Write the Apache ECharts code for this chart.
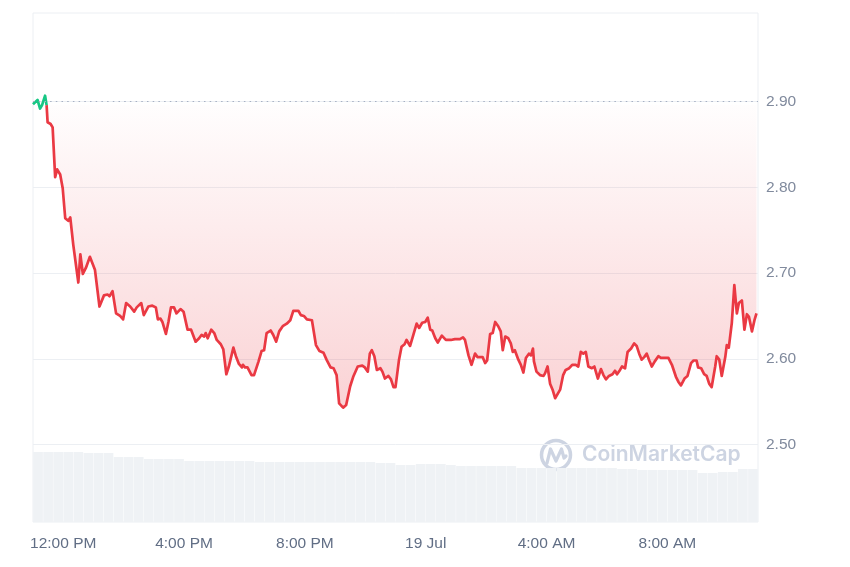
<!DOCTYPE html>
<html>
<head>
<meta charset="utf-8">
<script src="https://cdn.jsdelivr.net/npm/echarts@6/dist/echarts.min.js"></script>
<style>
html,body{margin:0;padding:0;background:#fff;}
#chart{width:850px;height:567px;}
</style>
</head>
<body>
<div id="chart"></div>
<script>
// ---- Data ----
const startTime = Date.UTC(2024, 6, 18, 11, 0); // 18 Jul 11:00
const spanMinutes = 1440;
const openPrice = 2.8964;

// minutes after start
const priceMinutes = [0,9,14,18,24,27,29,35,39,44,48,54,59,64,70,74,80,90,94,99,105,113,123,132,141,148,152,158,165,173,179,185,193,201,206,209,215,220,229,237,244,248,253,257,264,269,274,280,285,293,299,307,314,323,330,335,340,343,347,354,360,365,373,378,384,389,398,403,409,415,417,421,426,434,439,448,454,459,464,472,477,483,489,496,504,511,517,527,532,538,544,554,562,569,577,583,591,597,603,608,616,622,630,636,645,654,659,665,669,673,678,683,690,694,699,706,711,716,720,727,732,738,742,749,755,762,767,773,779,784,789,793,799,804,812,820,830,838,848,854,858,865,871,878,883,888,893,898,902,908,913,918,924,929,933,938,944,949,953,957,964,969,974,979,985,989,993,995,1000,1007,1014,1017,1022,1027,1032,1037,1043,1047,1053,1058,1065,1071,1078,1083,1088,1093,1098,1103,1110,1115,1122,1128,1133,1138,1144,1151,1156,1160,1166,1170,1176,1181,1188,1194,1199,1204,1209,1214,1219,1224,1229,1235,1242,1247,1255,1262,1269,1277,1282,1287,1294,1300,1307,1312,1318,1321,1327,1333,1338,1343,1348,1355,1358,1363,1368,1375,1378,1382,1388,1393,1398,1402,1408,1413,1418,1422,1428,1433,1437];
const priceValues = [2.897,2.902,2.892,2.896,2.907,2.896,2.876,2.874,2.870,2.812,2.821,2.815,2.799,2.764,2.761,2.765,2.733,2.689,2.722,2.699,2.706,2.719,2.704,2.661,2.674,2.675,2.673,2.679,2.653,2.650,2.646,2.665,2.661,2.655,2.660,2.658,2.665,2.651,2.661,2.662,2.660,2.646,2.647,2.643,2.629,2.643,2.660,2.660,2.653,2.658,2.655,2.634,2.634,2.620,2.624,2.628,2.626,2.630,2.624,2.634,2.630,2.622,2.617,2.611,2.582,2.591,2.613,2.603,2.594,2.590,2.593,2.590,2.590,2.581,2.581,2.597,2.609,2.610,2.630,2.633,2.628,2.620,2.632,2.638,2.641,2.645,2.656,2.656,2.651,2.650,2.646,2.645,2.616,2.609,2.607,2.599,2.590,2.589,2.581,2.548,2.543,2.546,2.568,2.579,2.591,2.592,2.590,2.585,2.606,2.610,2.603,2.587,2.589,2.585,2.577,2.580,2.576,2.567,2.567,2.599,2.614,2.617,2.622,2.615,2.627,2.641,2.636,2.642,2.643,2.648,2.634,2.633,2.624,2.619,2.627,2.622,2.622,2.623,2.623,2.625,2.622,2.604,2.593,2.606,2.602,2.602,2.602,2.595,2.598,2.629,2.630,2.643,2.638,2.632,2.610,2.626,2.624,2.618,2.608,2.610,2.599,2.593,2.584,2.601,2.606,2.604,2.612,2.597,2.585,2.581,2.580,2.583,2.591,2.571,2.564,2.554,2.560,2.564,2.581,2.587,2.589,2.593,2.593,2.591,2.608,2.606,2.608,2.591,2.589,2.591,2.577,2.588,2.581,2.576,2.580,2.582,2.586,2.582,2.587,2.591,2.589,2.608,2.612,2.618,2.615,2.606,2.599,2.602,2.606,2.598,2.591,2.597,2.603,2.601,2.601,2.601,2.593,2.579,2.573,2.569,2.577,2.580,2.595,2.598,2.598,2.590,2.589,2.582,2.580,2.571,2.567,2.591,2.603,2.599,2.580,2.602,2.616,2.613,2.642,2.686,2.653,2.665,2.668,2.634,2.652,2.649,2.632,2.645,2.653];
// the opening points (index 0..greenEndIndex) trade around the open price and are drawn green
const greenEndIndex = 5;

// 24h volume (USD millions), one bar per 20-minute slot
const volumeValues = [140,140,140,140,140,138,138,138,130,130,130,126,126,126,126,122,122,122,122,122,122,122,120,120,120,120,120,120,120,120,120,120,120,120,118,118,114,114,116,116,116,114,112,112,112,112,112,112,108,108,108,108,108,108,108,108,108,108,106,106,104,104,104,104,104,104,98,98,100,100,106,106];
const volumeSlotMinutes = 20;

const priceTicks = [2.50, 2.60, 2.70, 2.80, 2.90];

// ---- Build ----
const endTime = startTime + spanMinutes * 60000;
const priceData = priceMinutes.map((m, i) => [startTime + m * 60000, priceValues[i]]);
const greenData = priceData.slice(0, greenEndIndex + 1);
const redData = priceData.slice(greenEndIndex);
const volumeSlots = volumeValues.map((v, i) => String(startTime + i * volumeSlotMinutes * 60000));

const RED = '#ea3943', GREEN = '#16c784';
const labelFont = "'Liberation Sans', Arial, sans-serif";

function fmtTime(val) {
  const d = new Date(val);
  const h = d.getUTCHours();
  if (h === 0) return d.getUTCDate() + ' Jul';
  const hh = h % 12 === 0 ? 12 : h % 12;
  return hh + ':00 ' + (h < 12 ? 'AM' : 'PM');
}

const chart = echarts.init(document.getElementById('chart'), null, {renderer: 'canvas'});
const option = {
  animation: false,
  useUTC: true,
  backgroundColor: '#ffffff',
  grid: [
    {left: 33, right: 92, top: 13, bottom: 45, show: true, borderColor: '#eceff3', borderWidth: 1, backgroundColor: 'rgba(0,0,0,0)'},
    {left: 33, right: 92, top: 16, bottom: 36.8}
  ],
  xAxis: [
    {type: 'time', gridIndex: 0, min: startTime, max: endTime,
     minInterval: 4 * 3600000, maxInterval: 4 * 3600000,
     axisLine: {show: false}, axisTick: {show: false}, splitLine: {show: false},
     axisLabel: {formatter: fmtTime, color: '#616e85', fontSize: 15.5, margin: 14, fontFamily: labelFont, hideOverlap: false}},
    {type: 'time', gridIndex: 1, min: startTime, max: endTime, show: false},
    {type: 'category', gridIndex: 0, data: volumeSlots, boundaryGap: true, show: false}
  ],
  yAxis: [
    {type: 'value', gridIndex: 0, min: 0, max: 1018, show: false},
    {type: 'value', gridIndex: 1, position: 'right', min: 2.4, max: 3.0, interval: 0.1,
     axisLine: {show: false}, axisTick: {show: false},
     splitLine: {show: true, showMinLine: false, showMaxLine: false, lineStyle: {color: '#eceff3', width: 1}},
     axisLabel: {color: '#808a9d', fontSize: 15.5, margin: 8, fontFamily: labelFont,
       formatter: v => priceTicks.some(t => Math.abs(t - v) < 1e-6) ? v.toFixed(2) : ''}}
  ],
  graphic: [
    {type: 'group', z: 0, silent: true, children: [
      {type: 'circle', shape: {cx: 556, cy: 455, r: 14.5}, style: {fill: 'none', stroke: '#cdd4e2', lineWidth: 3.5}},
      {type: 'polyline', shape: {points: [[547, 463], [550.5, 449], [556, 461], [561.5, 449], [564, 458], [566, 456]]},
       style: {fill: 'none', stroke: '#cdd4e2', lineWidth: 3.2, lineJoin: 'round', lineCap: 'round'}},
      {type: 'text', x: 582, y: 455, style: {text: 'CoinMarketCap', fill: '#cdd4e2', font: "600 21px Inter, 'Noto Sans', sans-serif", verticalAlign: 'middle', align: 'left'}}
    ]}
  ],
  series: [
    {type: 'bar', name: 'Volume', xAxisIndex: 2, yAxisIndex: 0, data: volumeValues,
     barCategoryGap: '4%', itemStyle: {color: '#eff2f5'}, silent: true, z: 1},
    {type: 'line', name: 'Price', xAxisIndex: 1, yAxisIndex: 1, data: redData,
     showSymbol: false, symbol: 'none', z: 3,
     lineStyle: {width: 2.7, color: RED, join: 'round'},
     itemStyle: {color: RED},
     areaStyle: {origin: openPrice,
       color: new echarts.graphic.LinearGradient(0, 0, 0, 1, [
         {offset: 0, color: 'rgba(234,57,67,0.01)'},
         {offset: 1, color: 'rgba(234,57,67,0.32)'}
       ])},
     markLine: {silent: true, symbol: 'none', label: {show: false},
       lineStyle: {color: '#a6b0c3', type: [1.5, 4.2], width: 1.2},
       data: [{yAxis: openPrice}]}
    },
    {type: 'line', name: 'Price (above open)', xAxisIndex: 1, yAxisIndex: 1, data: greenData,
     showSymbol: false, symbol: 'none', z: 4,
     lineStyle: {width: 2.7, color: GREEN, join: 'round'}, itemStyle: {color: GREEN}}
  ]
};
chart.setOption(option);
</script>
</body>
</html>
